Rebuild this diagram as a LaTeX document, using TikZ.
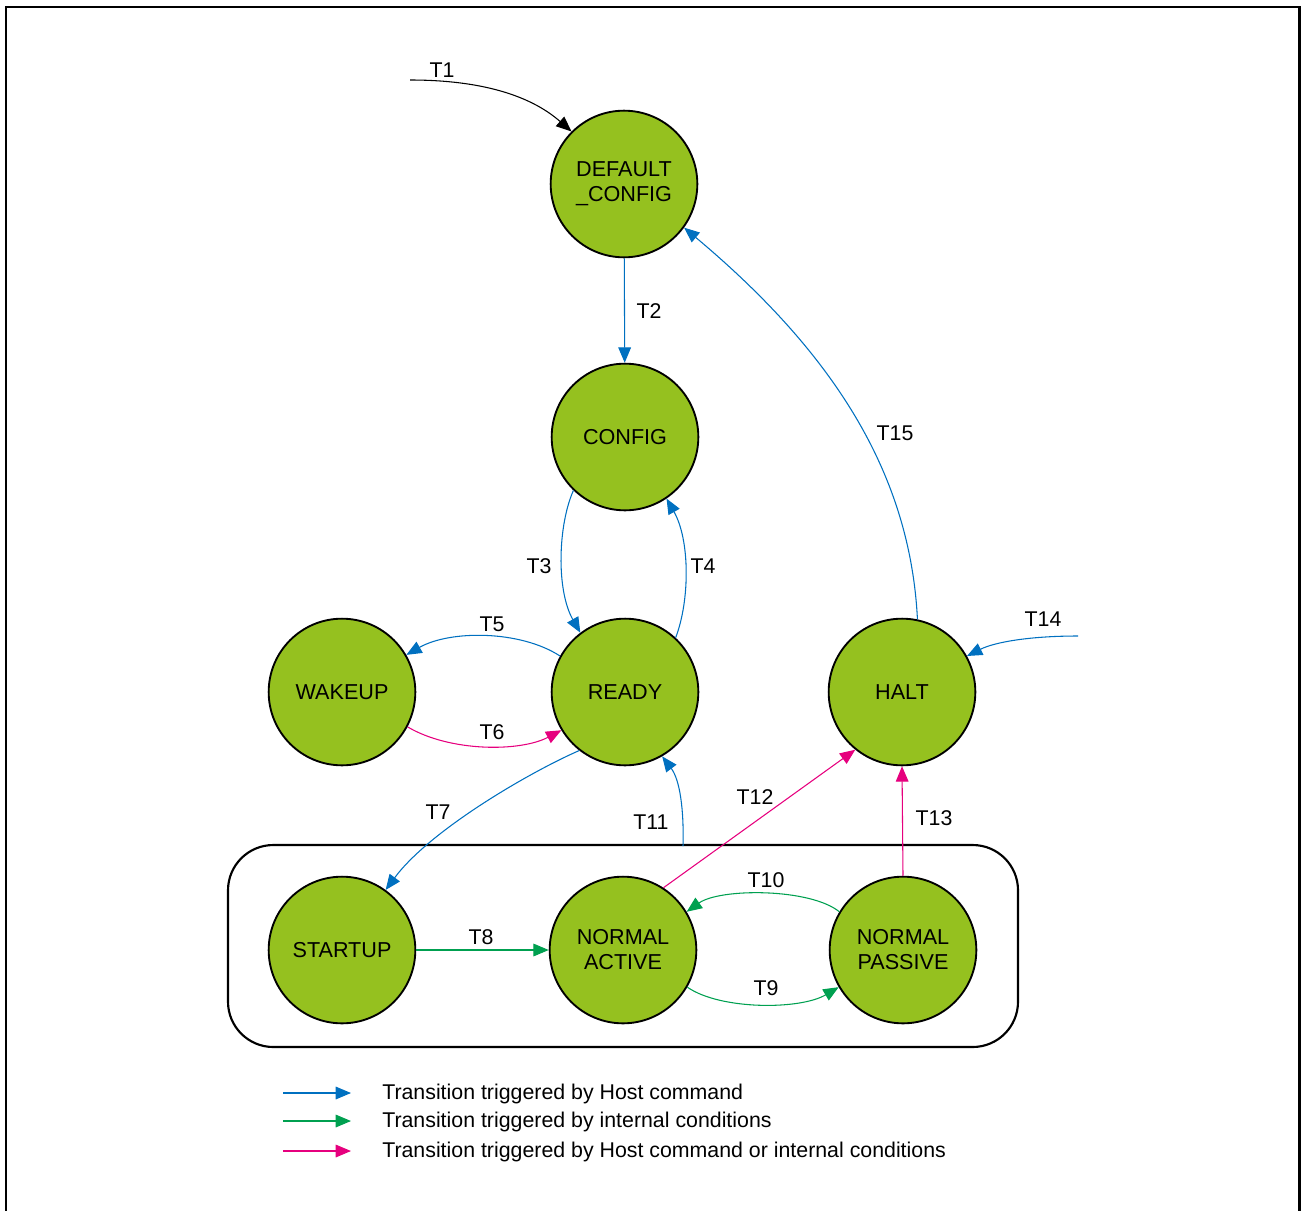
\documentclass[tikz,border=0pt]{standalone}
\usepackage{fontspec}
\setmainfont{Liberation Sans}
\usetikzlibrary{arrows.meta}
\definecolor{stategreen}{RGB}{149,193,31}
\definecolor{hostblue}{RGB}{0,112,192}
\definecolor{intgreen}{RGB}{0,160,80}
\definecolor{mixpink}{RGB}{230,0,126}
\begin{document}
\begin{tikzpicture}[x=0.75pt,y=-0.75pt,
  state/.style={circle, draw=black, line width=1.4pt, fill=stategreen,
    minimum size=110pt, inner sep=0pt, align=center,
    font=\fontsize{16.2}{18.75}\selectfont},
  tr/.style={line width=0.8pt, -{Triangle[length=11.5pt,width=9.5pt]}},
  host/.style={tr, draw=hostblue},
  intern/.style={tr, draw=intgreen},
  mixed/.style={tr, draw=mixpink},
  lbl/.style={font=\fontsize{16}{18}\selectfont, inner sep=0pt},
  legtext/.style={font=\fontsize{16}{18}\selectfont, inner sep=0pt, anchor=west}]

\useasboundingbox (0,0) rectangle (1301,1210);
% outer frame
\draw[line width=1.6pt] (6,1212) -- (6,7) -- (1299.5,7) -- (1299.5,1212);

% group box
\draw[line width=1.6pt, rounded corners=34pt] (228,845) rectangle (1018,1047);

% states
\node[state] (dc) at (624,184) {DEFAULT\\\_CONFIG};
\node[state] (config) at (625,437) {CONFIG};
\node[state] (wakeup) at (342,692) {WAKEUP};
\node[state] (ready) at (625,692) {READY};
\node[state] (halt) at (902,692) {HALT};
\node[state] (startup) at (342,950) {STARTUP};
\node[state] (na) at (623,950) {NORMAL\\ACTIVE};
\node[state] (np) at (903,950) {NORMAL\\PASSIVE};

% free ends
\coordinate (t1s) at (410,80);
\coordinate (t11s) at (683,846);
\coordinate (t14s) at (1078,636);

% transitions
\draw[tr, draw=black] (t1s) .. controls (480,80) and (530,95) .. (dc.135);
\draw[host] (dc) -- (config);
\draw[host] (config.226) .. controls (558,525) and (556,590) .. (ready.127);
\draw[host] (ready.47) .. controls (690,600) and (690,540) .. (config.304);
\draw[host] (ready.151) .. controls (520,630) and (450,630) .. (wakeup.30);
\draw[mixed] (wakeup.332) .. controls (450,752) and (520,752) .. (ready.211);
\draw[host] (ready.232) .. controls (530,772) and (430,830) .. (startup.54);
\draw[intern] (startup) -- (na);
\draw[intern] (na.330) .. controls (720,1010) and (800,1010) .. (np.210);
\draw[intern] (np.149) .. controls (810,888) and (720,888) .. (na.31);
\draw[host] (t11s) .. controls (684,810) and (680,780) .. (ready.300);
\draw[mixed] (na.57) -- (halt.231);
\draw[mixed] (np.north) -- (halt.south);
\draw[host] (t14s) .. controls (1030,636) and (995,642) .. (halt.29);
\draw[host] (halt.78) .. controls (910,470) and (830,350) .. (dc.324);

% labels
\node[lbl] (l1) at (442,70) {T1};
\node[lbl] (l2) at (649,311) {T2};
\node[lbl] (l3) at (539,566) {T3};
\node[lbl] (l4) at (703,566) {T4};
\node[lbl] (l5) at (492,624) {T5};
\node[lbl] (l6) at (492,732) {T6};
\node[lbl] (l7) at (438,812) {T7};
\node[lbl] (l8) at (481,937) {T8};
\node[lbl] (l9) at (766,988) {T9};
\node[lbl] (l10) at (766,880) {T10};
\node[lbl] (l11) at (651,822) {T11};
\node[lbl] (l12) at (755,797) {T12};
\node[lbl] (l13) at (934,818) {T13};
\node[lbl] (l14) at (1043,619) {T14};
\node[lbl] (l15) at (895,433) {T15};

% legend
\coordinate (g1a) at (283,1093); \coordinate (g1b) at (351,1093);
\coordinate (g2a) at (283,1121); \coordinate (g2b) at (351,1121);
\coordinate (g3a) at (283,1151); \coordinate (g3b) at (351,1151);
\draw[host] (g1a) -- (g1b);
\draw[intern] (g2a) -- (g2b);
\draw[mixed] (g3a) -- (g3b);
\node[legtext] (lt1) at (382,1094) {Transition triggered by Host command};
\node[legtext] (lt2) at (382,1122) {Transition triggered by internal conditions};
\node[legtext] (lt3) at (382,1152) {Transition triggered by Host command or internal conditions};
\end{tikzpicture}
\end{document}
